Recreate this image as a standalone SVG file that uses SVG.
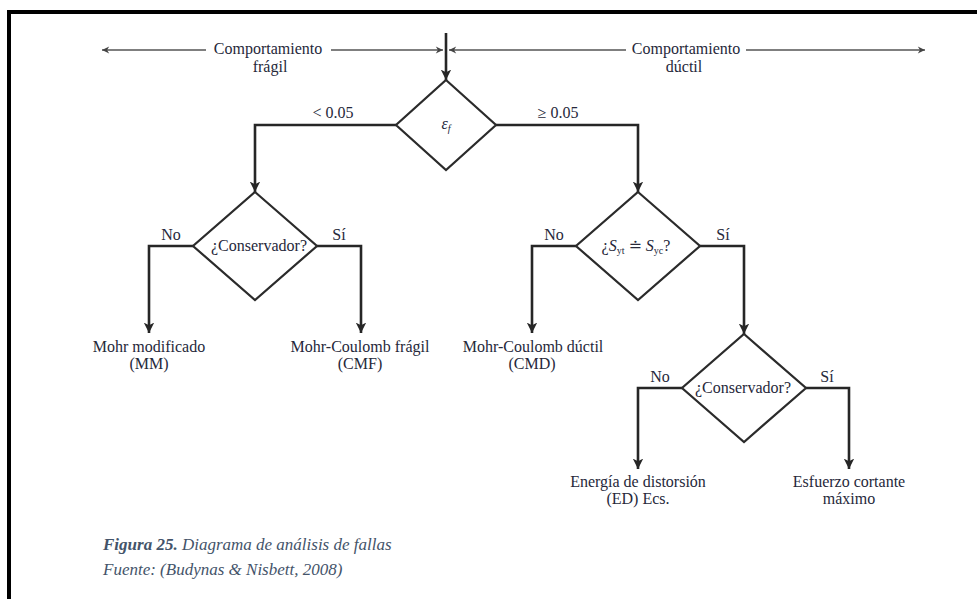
<svg xmlns="http://www.w3.org/2000/svg" width="977" height="599" viewBox="0 0 977 599" font-family="'Liberation Serif', 'Times New Roman', Times, 'DejaVu Serif', serif">
  <style>
    text { font-family: "Liberation Serif", "Times New Roman", Times, "DejaVu Serif", serif; }
    .t { font-size: 16px; fill: #26283a; text-anchor: middle; }
    .cap { font-size: 17px; font-style: italic; fill: #44546a; }
    .dia { fill: #ffffff; stroke: #2b2b2b; stroke-width: 2.2; stroke-linejoin: miter; }
    .wire { fill: none; stroke: #262626; stroke-width: 2.6; }
    .scale { fill: none; stroke: #555555; stroke-width: 1.6; }
  </style>
  <defs>
    <marker id="head" viewBox="0 0 10 10" refX="10" refY="5" markerWidth="4" markerHeight="5.5" orient="auto" markerUnits="strokeWidth">
      <path d="M0,0 L10,5 L0,10 L2.5,5 Z" fill="#262626"/>
    </marker>
    <marker id="headSmall" viewBox="0 0 10 10" refX="10" refY="5" markerWidth="6" markerHeight="4.5" orient="auto" markerUnits="strokeWidth">
      <path d="M0,0 L10,5 L0,10 L3,5 Z" fill="#444444"/>
    </marker>
  </defs>

  <rect width="977" height="599" fill="#ffffff"/>

  <!-- page frame -->
  <g id="frame">
    <line x1="7" y1="12" x2="977" y2="12" stroke="#000" stroke-width="4"/>
    <line x1="9" y1="10" x2="9" y2="599" stroke="#000" stroke-width="4"/>
  </g>

  <!-- behaviour ranges -->
  <g id="ranges">
    <line class="scale" x1="206" y1="50" x2="102" y2="50" marker-end="url(#headSmall)"/>
    <line class="scale" x1="331" y1="50" x2="443" y2="50" marker-end="url(#headSmall)"/>
    <line class="scale" x1="626" y1="50" x2="449" y2="50" marker-end="url(#headSmall)"/>
    <line class="scale" x1="746" y1="50" x2="925" y2="50" marker-end="url(#headSmall)"/>
    <text class="t" x="268" y="54">Comportamiento</text>
    <text class="t" x="270" y="72">frágil</text>
    <text class="t" x="686" y="54">Comportamiento</text>
    <text class="t" x="684" y="72">dúctil</text>
  </g>

  <!-- connectors -->
  <g id="connectors">
    <line class="wire" x1="446" y1="33" x2="446" y2="80" marker-end="url(#head)"/>
    <polyline class="wire" points="396,125 255,125 255,192" marker-end="url(#head)"/>
    <polyline class="wire" points="496,125 638,125 638,192" marker-end="url(#head)"/>
    <polyline class="wire" points="193,246 149,246 149,333" marker-end="url(#head)"/>
    <polyline class="wire" points="317,246 361,246 361,333" marker-end="url(#head)"/>
    <polyline class="wire" points="576,246 532,246 532,333" marker-end="url(#head)"/>
    <polyline class="wire" points="700,246 744,246 744,334" marker-end="url(#head)"/>
    <polyline class="wire" points="682,388 638,388 638,469" marker-end="url(#head)"/>
    <polyline class="wire" points="806,388 849,388 849,469" marker-end="url(#head)"/>
    <text class="t" x="333" y="118">&lt; 0.05</text>
    <text class="t" x="558" y="118">≥ 0.05</text>
    <text class="t" x="171" y="240">No</text>
    <text class="t" x="339" y="240">Sí</text>
    <text class="t" x="554" y="240">No</text>
    <text class="t" x="723" y="240">Sí</text>
    <text class="t" x="660" y="382">No</text>
    <text class="t" x="827" y="382">Sí</text>
  </g>

  <!-- decision: strain at fracture -->
  <g id="d-strain">
    <polygon class="dia" points="446,80 496,125 446,170 396,125"/>
    <text class="t" x="446" y="129" font-size="13" font-style="italic">ε<tspan font-size="10" dy="3">f</tspan></text>
  </g>

  <!-- decision: conservative (brittle) -->
  <g id="d-cons-brittle">
    <polygon class="dia" points="255,192 317,246 255,300 193,246"/>
    <text class="t" x="259" y="251">¿Conservador?</text>
  </g>

  <!-- decision: equal yield strengths -->
  <g id="d-yield">
    <polygon class="dia" points="638,192 700,246 638,300 576,246"/>
    <text class="t" x="636" y="251">¿<tspan font-style="italic">S</tspan><tspan font-size="10" dy="3">yt</tspan><tspan dy="-3"> ≐ </tspan><tspan font-style="italic">S</tspan><tspan font-size="10" dy="3">yc</tspan><tspan dy="-3">?</tspan></text>
  </g>

  <!-- decision: conservative (ductile) -->
  <g id="d-cons-ductile">
    <polygon class="dia" points="744,334 806,388 744,442 682,388"/>
    <text class="t" x="743" y="393">¿Conservador?</text>
  </g>

  <!-- outcomes -->
  <g id="r-mm">
    <text class="t" x="149" y="352">Mohr modificado</text>
    <text class="t" x="149" y="369">(MM)</text>
  </g>
  <g id="r-cmf">
    <text class="t" x="360" y="352">Mohr-Coulomb frágil</text>
    <text class="t" x="360" y="369">(CMF)</text>
  </g>
  <g id="r-cmd">
    <text class="t" x="533" y="352">Mohr-Coulomb dúctil</text>
    <text class="t" x="532" y="369">(CMD)</text>
  </g>
  <g id="r-ed">
    <text class="t" x="638" y="487">Energía de distorsión</text>
    <text class="t" x="638" y="504">(ED) Ecs.</text>
  </g>
  <g id="r-shear">
    <text class="t" x="849" y="487">Esfuerzo cortante</text>
    <text class="t" x="849" y="504">máximo</text>
  </g>

  <!-- caption -->
  <g id="caption">
    <text class="cap" x="103" y="550"><tspan font-weight="bold">Figura 25.</tspan> Diagrama de análisis de fallas</text>
    <text class="cap" x="103" y="575">Fuente: (Budynas &amp; Nisbett, 2008)</text>
  </g>
</svg>
